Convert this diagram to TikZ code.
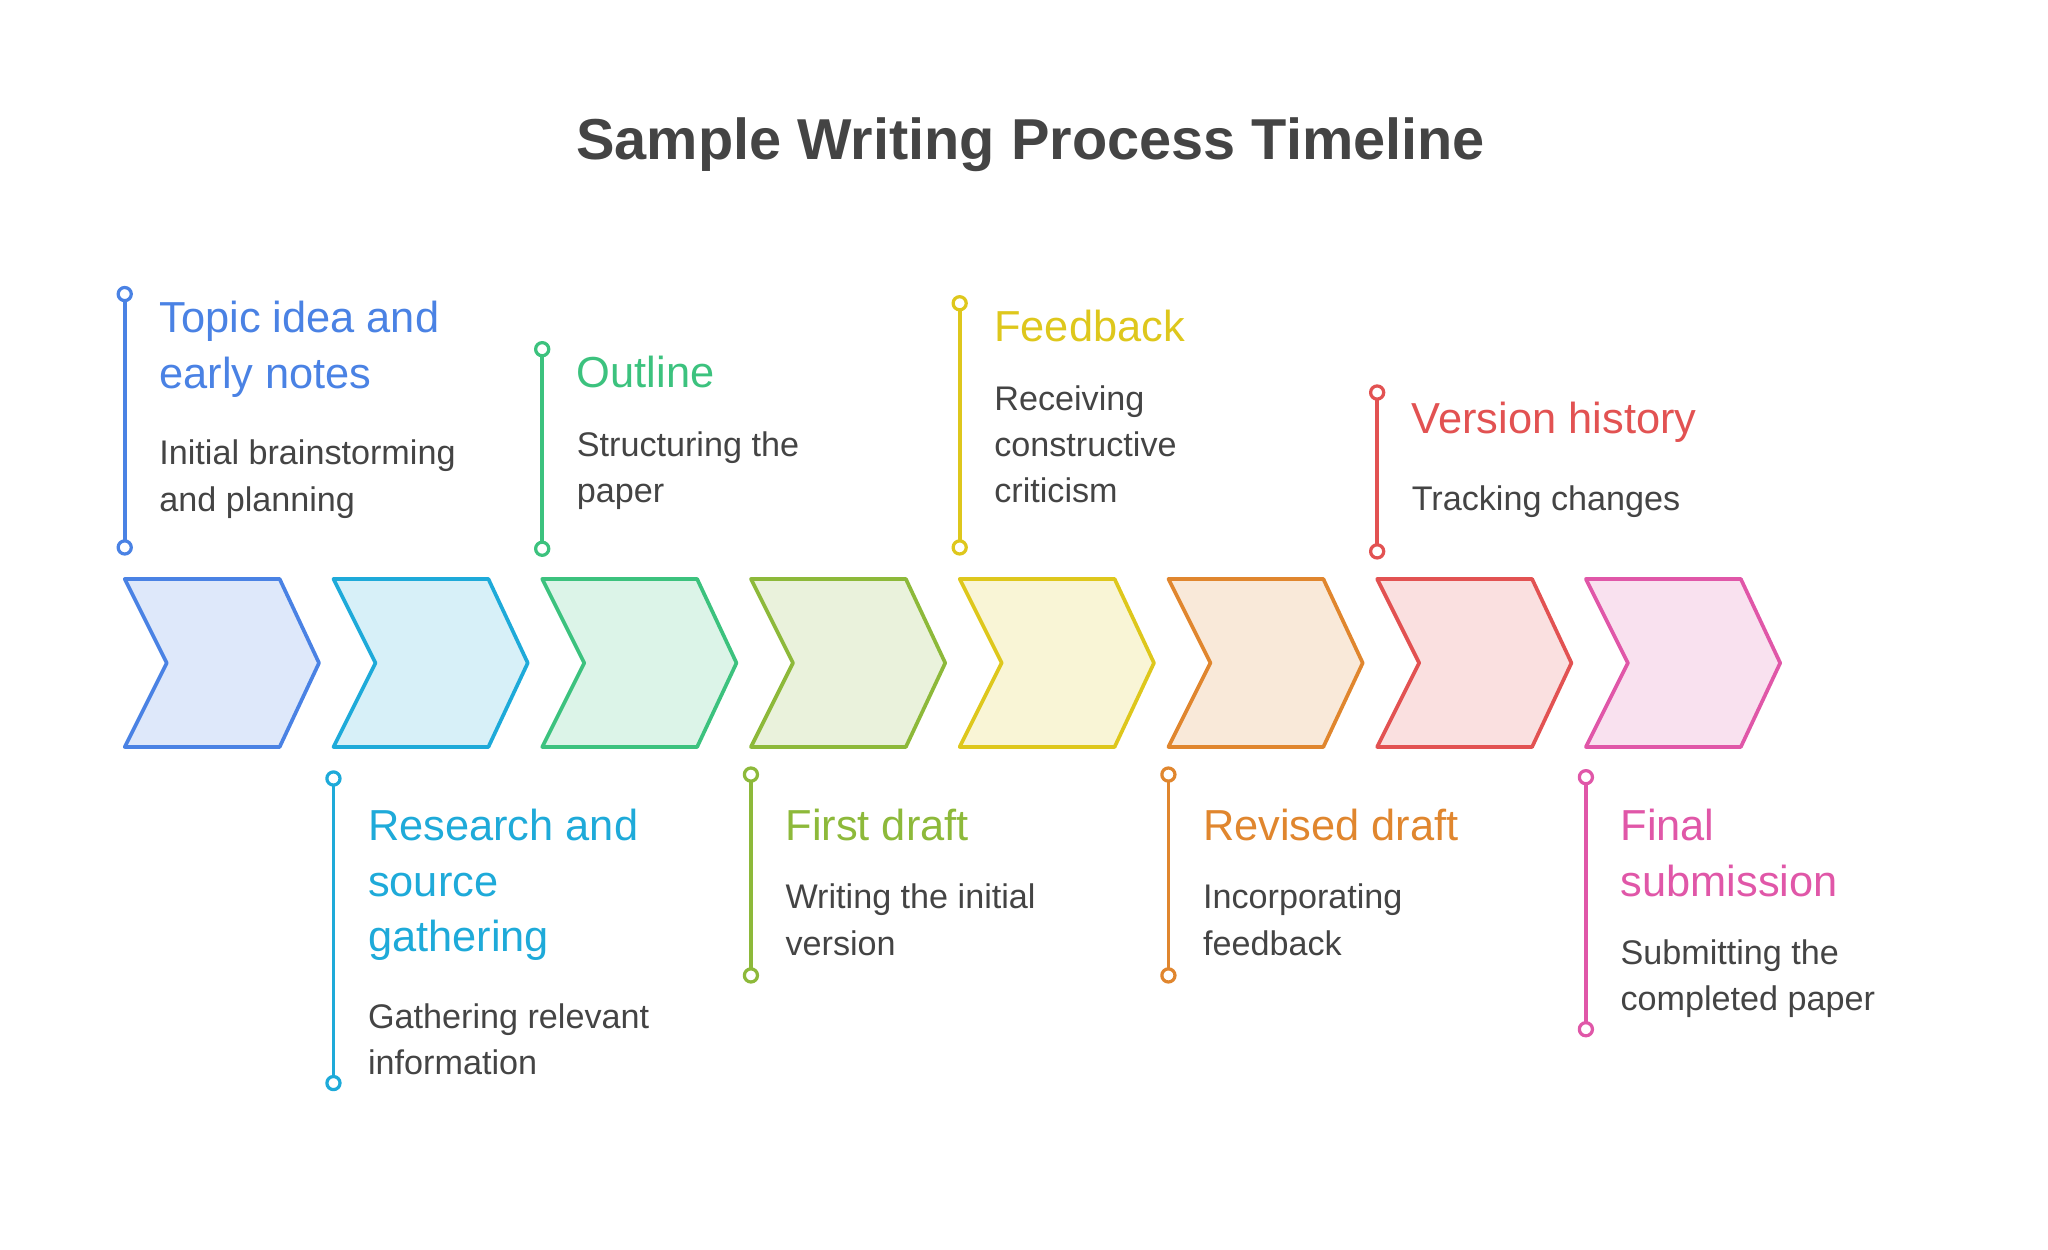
\documentclass[tikz,border=0pt]{standalone}
\usepackage{fontspec}
\setmainfont{Liberation Sans}
\usetikzlibrary{positioning}
\definecolor{cA}{HTML}{4A82E4}
\definecolor{cB}{HTML}{1EAAD9}
\definecolor{cC}{HTML}{3CC27E}
\definecolor{cD}{HTML}{8DB93A}
\definecolor{cE}{HTML}{DEC71C}
\definecolor{cF}{HTML}{E0862E}
\definecolor{cG}{HTML}{E25252}
\definecolor{cH}{HTML}{E057A8}
\definecolor{ink}{HTML}{444444}
\begin{document}
\begin{tikzpicture}[x=0.01cm,y=-0.01cm,line width=0.8pt,line join=round,
    head/.style={anchor=north west,inner sep=0pt,align=left,font=\fontsize{9.4}{12}\selectfont},
    body/.style={below=0.3cm of #1.south west,anchor=north west,inner sep=0pt,align=left,
                 text=ink,font=\fontsize{7.4}{10}\selectfont},
    pin/.style={circle,draw=#1,fill=white,line width=0.7pt,inner sep=0pt,minimum size=0.1cm}]
  \useasboundingbox (0,0) rectangle (1560,952);
  \node[font=\bfseries\fontsize{12.5}{15}\selectfont,text=ink] (title) at (785,110) {Sample Writing Process Timeline};
  % chevrons
  \foreach \c [count=\i from 0] in {cA,cB,cC,cD,cE,cF,cG,cH}{
    \pgfmathsetmacro{\x}{95+159*\i}
    \draw[draw=\c,fill=\c!18] (\x,441) -- ++(118,0) -- ++(30,64) -- ++(-30,64) -- (\x,569) -- ++(32,-64) -- cycle;
  }
  % top labels
  \foreach \i/\c/\ya/\yb/\yt/\h/\b in {
      0/cA/224/417/228/{Topic idea and\\early notes}/{Initial brainstorming\\and planning},
      2/cC/266/418/270/{Outline}/{Structuring the\\paper},
      4/cE/231/417/235/{Feedback}/{Receiving\\constructive\\criticism},
      6/cG/299/420/305/{Version history}/{Tracking changes}}{
    \pgfmathsetmacro{\x}{95+159*\i}
    \coordinate (t\i) at (\x,\ya);
    \coordinate (u\i) at (\x,\yb);
    \draw[\c] (t\i) -- (u\i);
    \node[pin=\c] at (t\i) {};
    \node[pin=\c] at (u\i) {};
    \node[head,text=\c] (h\i) at (\x+25,\yt) {\h};
    \node[body=h\i] (b\i) {\b};
  }
  % bottom labels
  \foreach \i/\c/\ya/\yb/\yt/\h/\b in {
      1/cB/593/825/615/{Research and\\source\\gathering}/{Gathering relevant\\information},
      3/cD/590/743/615/{First draft}/{Writing the initial\\version},
      5/cF/590/743/615/{Revised draft}/{Incorporating\\feedback},
      7/cH/592/784/615/{Final\\submission}/{Submitting the\\completed paper}}{
    \pgfmathsetmacro{\x}{95+159*\i}
    \coordinate (t\i) at (\x,\ya);
    \coordinate (u\i) at (\x,\yb);
    \draw[\c] (t\i) -- (u\i);
    \node[pin=\c] at (t\i) {};
    \node[pin=\c] at (u\i) {};
    \node[head,text=\c] (h\i) at (\x+25,\yt) {\h};
    \node[body=h\i] (b\i) {\b};
  }
\end{tikzpicture}
\end{document}
